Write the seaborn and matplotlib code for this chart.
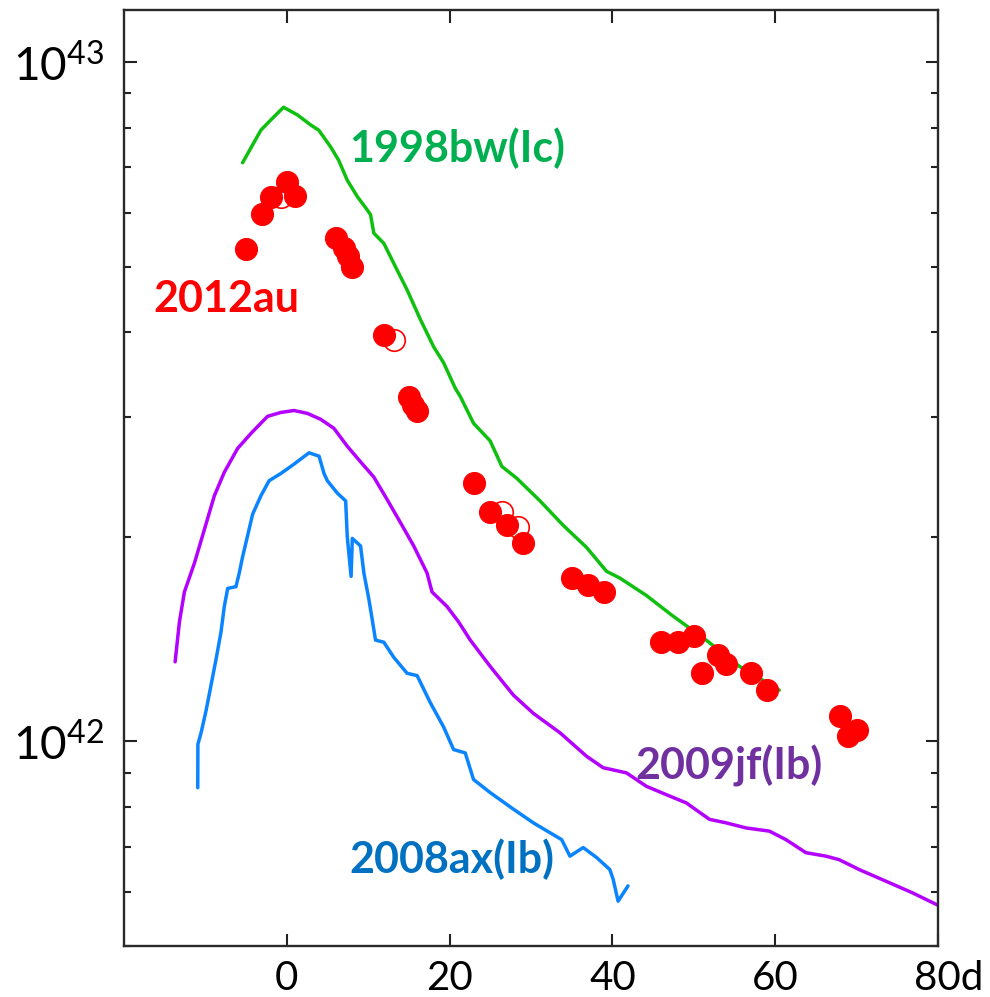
import numpy as np
import pandas as pd
import matplotlib
matplotlib.use("Agg")
import matplotlib.pyplot as plt
import seaborn as sns
from matplotlib.ticker import FixedLocator, LogLocator, NullFormatter
from matplotlib.transforms import ScaledTranslation

# ---------------- data (luminosity in units of 1e42 erg/s, time in days) ----------------
bw_day = [-5.43, -3.18, -1.96, -0.40, 1.31, 2.94, 3.92, 5.39, 6.37, 7.43, 8.66, 9.88, 10.29,
          10.69, 11.92, 13.56, 14.78, 16.41, 18.04, 19.26, 20.70, 21.31, 22.94, 24.98, 26.42,
          28.25, 31.11, 33.96, 36.83, 39.28, 40.91, 44.18, 47.43, 51.52, 55.60, 60.50]
bw_lum = [7.11, 7.94, 8.22, 8.58, 8.36, 8.08, 7.94, 7.50, 7.17, 6.70, 6.34, 6.06, 5.96,
          5.60, 5.41, 4.94, 4.62, 4.18, 3.81, 3.61, 3.31, 3.22, 2.94, 2.77, 2.54,
          2.44, 2.26, 2.08, 1.93, 1.78, 1.74, 1.64, 1.53, 1.41, 1.29, 1.19]

jf_day = [-13.72, -13.19, -12.58, -11.35, -10.13, -8.90, -7.68, -6.04, -4.41, -2.36, -0.73,
          0.89, 2.54, 4.16, 5.79, 7.43, 9.06, 10.69, 12.33, 13.96, 15.59, 17.23, 17.84, 19.68,
          21.10, 22.54, 24.98, 27.84, 30.29, 33.56, 36.83, 38.86, 41.73, 44.18, 46.63, 49.08,
          51.93, 53.97, 56.42, 59.28, 61.32, 63.77, 66.22, 67.85, 70.30, 73.57, 76.83, 80.0]
jf_lum = [1.31, 1.50, 1.66, 1.83, 2.05, 2.30, 2.49, 2.70, 2.84, 3.01, 3.05,
          3.07, 3.04, 2.98, 2.89, 2.72, 2.58, 2.45, 2.27, 2.10, 1.94, 1.77, 1.66, 1.58,
          1.50, 1.41, 1.29, 1.17, 1.10, 1.03, 0.951, 0.915, 0.899, 0.859, 0.835, 0.812,
          0.768, 0.759, 0.746, 0.738, 0.717, 0.686, 0.678, 0.670, 0.648, 0.623, 0.599, 0.574]

ax_day = [-10.94, -10.92, -10.53, -9.92, -9.31, -8.70, -8.08, -7.68, -7.26, -6.25, -5.84,
          -5.43, -4.81, -4.20, -3.18, -2.17, -0.73, 0.89, 2.73, 3.96, 4.57, 4.98, 6.21, 7.23,
          7.43, 7.90, 8.05, 9.06, 9.47, 10.08, 10.50, 10.90, 11.92, 13.14, 14.78, 16.01, 17.64,
          19.27, 20.49, 21.92, 22.94, 24.98, 27.84, 30.29, 32.33, 33.77, 34.78, 36.41, 38.05,
          39.68, 40.09, 40.70, 41.92]
ax_lum = [0.855, 0.991, 1.03, 1.11, 1.21, 1.32, 1.45, 1.58, 1.68, 1.69, 1.77,
          1.87, 2.01, 2.16, 2.30, 2.42, 2.48, 2.56, 2.66, 2.63, 2.48, 2.42, 2.32, 2.26,
          2.00, 1.75, 1.99, 1.94, 1.77, 1.62, 1.51, 1.41, 1.40, 1.33, 1.26, 1.25, 1.14,
          1.05, 0.973, 0.962, 0.879, 0.841, 0.795, 0.759, 0.734, 0.717, 0.678, 0.698, 0.675,
          0.648, 0.627, 0.582, 0.613]

au_day = [-5, -3, -2, 0, 1, 6, 7, 7.5, 8, 12, 15, 15.5, 16, 23, 25, 27, 29, 35, 37, 39,
          46, 48, 50, 51, 53, 54, 57, 59, 68, 69, 70]
au_lum = [5.30, 5.97, 6.32, 6.67, 6.35, 5.51, 5.32, 5.18, 5.00, 3.97, 3.21, 3.13, 3.06,
          2.40, 2.18, 2.08, 1.96, 1.74, 1.70, 1.66, 1.40, 1.40, 1.43, 1.26, 1.34, 1.30,
          1.26, 1.19, 1.09, 1.02, 1.04]

au_open_day = [-0.73, 13.14, 26.42, 28.45]
au_open_lum = [6.34, 3.90, 2.18, 2.07]

labels = ["1998bw(Ic)", "2012au", "2009jf(Ib)", "2008ax(Ib)"]
x_ticks = [0, 20, 40, 60, 80]
x_tick_labels = ["0", "20", "40", "60", "80d"]

# ---------------- style ----------------
sns.set_style("ticks")
plt.rcParams["font.family"] = ["Lato", "DejaVu Sans"]
plt.rcParams["mathtext.fontset"] = "custom"
plt.rcParams["mathtext.rm"] = "Lato"

fig = plt.figure(figsize=(9.9, 9.97), dpi=100)
ax = fig.add_axes([124 / 990, 51 / 997, (938 - 124) / 990, (946 - 10) / 997])

df_bw = pd.DataFrame({"day": bw_day, "lum": bw_lum})
df_jf = pd.DataFrame({"day": jf_day, "lum": jf_lum})
df_ax = pd.DataFrame({"day": ax_day, "lum": ax_lum})
df_au = pd.DataFrame({"day": au_day, "lum": au_lum})
df_au_open = pd.DataFrame({"day": au_open_day, "lum": au_open_lum})

sns.lineplot(data=df_jf, x="day", y="lum", ax=ax, color="#B400FF", lw=2.5,
             sort=False, estimator=None)
sns.lineplot(data=df_ax, x="day", y="lum", ax=ax, color="#0A84FF", lw=2.5,
             sort=False, estimator=None)
sns.lineplot(data=df_bw, x="day", y="lum", ax=ax, color="#10C010", lw=2.5,
             sort=False, estimator=None, zorder=3)
sns.scatterplot(data=df_au_open, x="day", y="lum", ax=ax, s=240, facecolor="white",
                edgecolor="#FF0000", linewidth=1.2, zorder=4)
sns.scatterplot(data=df_au, x="day", y="lum", ax=ax, s=250, color="#FF0000",
                edgecolor="#FF0000", linewidth=0.8, zorder=5)

ax.set_yscale("log")
ax.set_xlim(-20, 80)
ax.set_ylim(0.5, 11.93)
ax.set_xlabel("")
ax.set_ylabel("")

ax.set_xticks(x_ticks)
ax.set_xticklabels(x_tick_labels)
ax.yaxis.set_major_locator(FixedLocator([1, 10]))
ax.set_yticklabels([r"$\mathregular{10^{42}}$", r"$\mathregular{10^{43}}$"])
ax.yaxis.set_minor_locator(LogLocator(base=10, subs=[2, 3, 4, 5, 6, 7, 8, 9]))
ax.yaxis.set_minor_formatter(NullFormatter())
ax.xaxis.set_minor_locator(FixedLocator([]))

ax.tick_params(axis="x", which="major", direction="in", length=9, width=1.5,
               top=True, labelsize=29, pad=10, colors="#222222", labelcolor="black")
ax.tick_params(axis="y", which="major", direction="in", length=9, width=1.5,
               right=True, labelsize=33, pad=14, colors="#222222", labelcolor="black")
ax.tick_params(axis="y", which="minor", direction="in", length=5, width=1.5,
               right=True, colors="#222222")

for sp in ax.spines.values():
    sp.set_linewidth(1.7)
    sp.set_color("#2a2a2a")

lbl = ax.get_xticklabels()[-1]
lbl.set_transform(lbl.get_transform() + ScaledTranslation(11 / 100, 0, fig.dpi_scale_trans))

# ---------------- annotations ----------------
fs = 31
ax.text(7.7, 7.13, labels[0], color="#00B050", fontsize=fs, fontweight="bold",
        ha="left", va="baseline")
ax.text(-16.45, 4.28, labels[1], color="#FF0000", fontsize=fs, fontweight="bold",
        ha="left", va="baseline")
ax.text(42.87, 0.879, labels[2], color="#7030A0", fontsize=fs, fontweight="bold",
        ha="left", va="baseline")
ax.text(7.72, 0.641, labels[3], color="#0070C0", fontsize=fs, fontweight="bold",
        ha="left", va="baseline")

fig.savefig("out.png", dpi=100, facecolor="white")
